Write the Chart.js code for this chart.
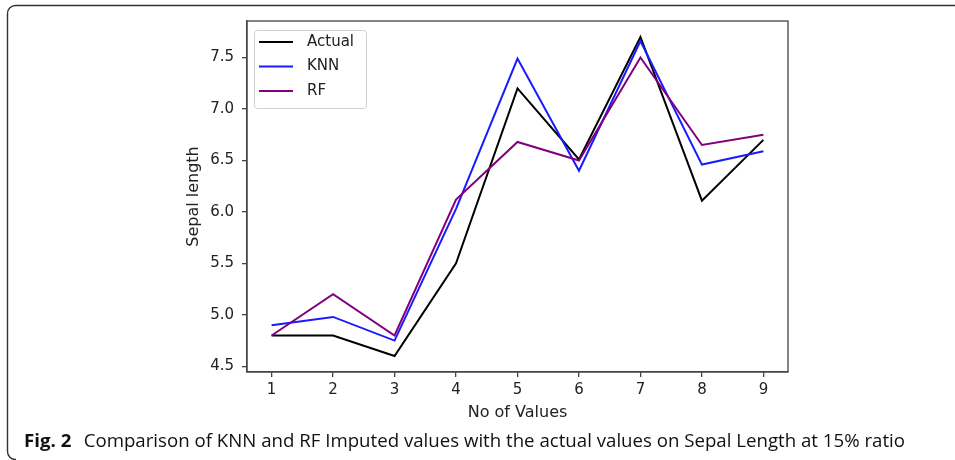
<!DOCTYPE html>
<html>
<head>
<meta charset="utf-8">
<script src="https://cdn.jsdelivr.net/npm/chart.js@4.4.0/dist/chart.umd.min.js"></script>
<style>
  html, body { margin: 0; padding: 0; background: #fff; }
  #wrap { width: 955px; height: 460px; position: relative; }
</style>
</head>
<body>
<div id="wrap"><canvas id="chart" width="955" height="460"></canvas></div>
<script>
const categories = [1, 2, 3, 4, 5, 6, 7, 8, 9];
const actualValues = [4.8, 4.8, 4.6, 5.5, 7.2, 6.51, 7.7, 6.11, 6.7];
const knnValues = [4.9, 4.98, 4.75, 6.03, 7.49, 6.4, 7.66, 6.46, 6.59];
const rfValues = [4.8, 5.2, 4.8, 6.12, 6.68, 6.5, 7.5, 6.65, 6.75];
const yTicks = [4.5, 5.0, 5.5, 6.0, 6.5, 7.0, 7.5];
const captionBold = "Fig. 2";
const captionText = "Comparison of KNN and RF Imputed values with the actual values on Sepal Length at 15% ratio";

const toPoints = vals => categories.map((c, i) => ({ x: c, y: vals[i] }));
const axisColor = "#444";
const tickFont = { family: "DejaVu Sans", size: 15 };
const titleFont = { family: "DejaVu Sans", size: 16 };

// box around plot, legend inside, caption and figure frame
const decorations = {
  id: "decorations",
  afterDatasetsDraw(chart) {
    const { ctx, chartArea: a } = chart;
    ctx.save();
    ctx.strokeStyle = axisColor;
    ctx.lineWidth = 1.3;
    ctx.strokeRect(a.left, a.top, a.right - a.left, a.bottom - a.top);

    // legend
    const lx = a.left + 7, ly = a.top + 9, lw = 112, lh = 78;
    ctx.beginPath();
    ctx.roundRect(lx + 0.5, ly + 0.5, lw, lh, 3);
    ctx.fillStyle = "rgba(255,255,255,0.85)";
    ctx.fill();
    ctx.strokeStyle = "#d0d0d0";
    ctx.lineWidth = 1;
    ctx.stroke();
    ctx.font = "15px 'DejaVu Sans'";
    ctx.textBaseline = "middle";
    chart.data.datasets.forEach((ds, i) => {
      const y = ly + 12 + i * 24.5;
      ctx.beginPath();
      ctx.moveTo(lx + 5, y);
      ctx.lineTo(lx + 39, y);
      ctx.strokeStyle = ds.borderColor;
      ctx.lineWidth = 2;
      ctx.stroke();
      ctx.fillStyle = "#222";
      ctx.fillText(ds.label, lx + 53, y);
    });
    ctx.restore();
  },
  afterDraw(chart) {
    const { ctx } = chart;
    ctx.save();
    // figure frame
    ctx.strokeStyle = "#333";
    ctx.lineWidth = 1.4;
    ctx.beginPath();
    ctx.moveTo(955, 5.5);
    ctx.lineTo(15.5, 5.5);
    ctx.arcTo(7.5, 5.5, 7.5, 13.5, 8);
    ctx.lineTo(7.5, 451);
    ctx.arcTo(7.5, 459.5, 15.5, 459.5, 8);
    ctx.lineTo(16, 459.5);
    ctx.stroke();

    // caption
    ctx.fillStyle = "#111";
    ctx.textBaseline = "alphabetic";
    const bold = "bold 18px 'Open Sans'";
    const reg = "18px 'Open Sans'";
    ctx.font = bold;
    const wb = ctx.measureText(captionBold).width;
    ctx.font = reg;
    const gap = 12;
    const wr = ctx.measureText(captionText).width;
    const sx = (905 - 24) / (wb + gap + wr);
    ctx.translate(24, 446.5);
    ctx.scale(sx, 1);
    ctx.font = bold;
    ctx.fillText(captionBold, 0, 0);
    ctx.font = reg;
    ctx.fillText(captionText, wb + gap, 0);
    ctx.restore();
  }
};

new Chart(document.getElementById("chart"), {
  type: "line",
  data: {
    datasets: [
      { label: "Actual", data: toPoints(actualValues), borderColor: "#000000", order: 3 },
      { label: "KNN", data: toPoints(knnValues), borderColor: "#1a1aff", order: 2 },
      { label: "RF", data: toPoints(rfValues), borderColor: "#800080", order: 1 }
    ]
  },
  options: {
    responsive: false,
    animation: false,
    events: [],
    layout: { padding: { left: 184, top: 21, right: 167, bottom: 38 } },
    elements: {
      line: { borderWidth: 2, tension: 0, fill: false },
      point: { radius: 0 }
    },
    plugins: { legend: { display: false }, tooltip: { enabled: false } },
    scales: {
      x: {
        type: "linear",
        min: 0.6,
        max: 9.4,
        afterBuildTicks: s => { s.ticks = categories.map(v => ({ value: v })); },
        afterFit: s => { s.height = 50; },
        ticks: { color: "#222", font: tickFont, padding: 4, maxRotation: 0, callback: v => String(v) },
        grid: { drawOnChartArea: false, drawTicks: true, tickLength: 5, color: axisColor, lineWidth: 1.3 },
        border: { color: axisColor, width: 1.3 },
        title: { display: true, text: "No of Values", color: "#222", font: titleFont, padding: 0 }
      },
      y: {
        min: 4.445,
        max: 7.855,
        afterBuildTicks: s => { s.ticks = yTicks.map(v => ({ value: v })); },
        afterFit: s => { s.width = 63; },
        ticks: { color: "#222", font: tickFont, padding: 8, callback: v => Number(v).toFixed(1) },
        grid: { drawOnChartArea: false, drawTicks: true, tickLength: 5, color: axisColor, lineWidth: 1.3 },
        border: { color: axisColor, width: 1.3 },
        title: { display: true, text: "Sepal length", color: "#222", font: titleFont, padding: 0 }
      }
    }
  },
  plugins: [decorations]
});
</script>
</body>
</html>
